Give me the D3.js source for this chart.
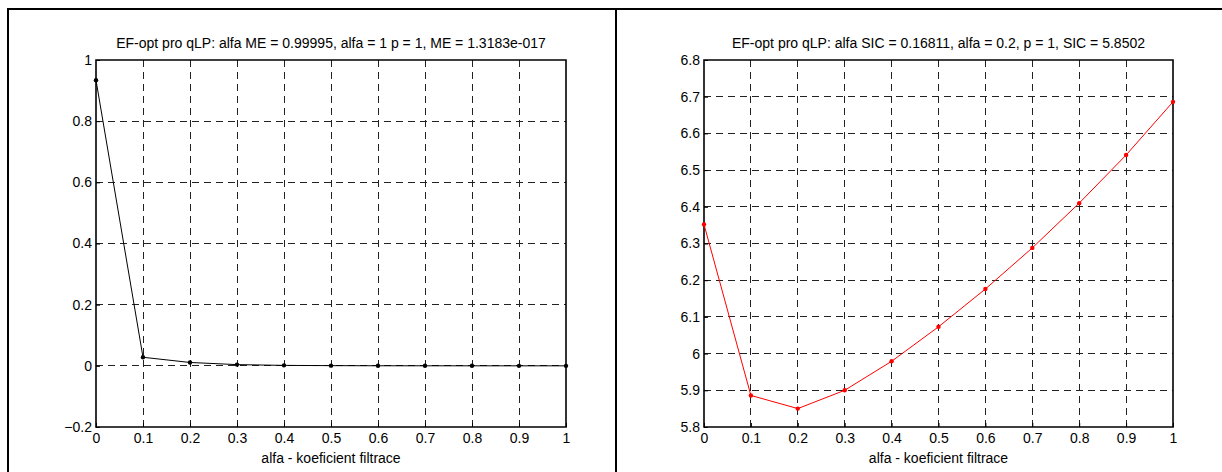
<!DOCTYPE html>
<html>
<head>
<meta charset="utf-8">
<script src="https://cdn.jsdelivr.net/npm/d3@7"></script>
<style>
  html, body { margin: 0; padding: 0; background: #fff; }
  svg { display: block; }
  text { font-family: "Liberation Sans", Arial, Helvetica, sans-serif; fill: #000; }
</style>
</head>
<body>
<svg id="fig" width="1222" height="472"></svg>
<script>
// Filter coefficient alfa (shared x values)
const alfa = [0, 0.1, 0.2, 0.3, 0.4, 0.5, 0.6, 0.7, 0.8, 0.9, 1.0];

// Mean error (ME) for each alfa
const meValues = [0.934, 0.028, 0.011, 0.004, 0.0015, 0.0006, 0.0002, 0.0001, 0.00004, 0.00001, 0.0];

// Schwarz information criterion (SIC) for each alfa
const sicValues = [6.352, 5.886, 5.8502, 5.900, 5.979, 6.073, 6.176, 6.288, 6.410, 6.541, 6.686];

// Tick values
const xTicks = [0, 0.1, 0.2, 0.3, 0.4, 0.5, 0.6, 0.7, 0.8, 0.9, 1];
const meTicks = [-0.2, 0, 0.2, 0.4, 0.6, 0.8, 1];
const sicTicks = [5.8, 5.9, 6.0, 6.1, 6.2, 6.3, 6.4, 6.5, 6.6, 6.7, 6.8];

const titleME = "EF-opt pro qLP: alfa ME = 0.99995, alfa = 1 p = 1, ME = 1.3183e-017";
const titleSIC = "EF-opt pro qLP: alfa SIC = 0.16811, alfa = 0.2, p = 1, SIC = 5.8502";
const xLabel = "alfa - koeficient filtrace";

const FONT = 14;
const svg = d3.select("#fig");

// Panel frames
svg.append("rect").attr("x", 8).attr("y", 9).attr("width", 608).attr("height", 480)
  .attr("fill", "none").attr("stroke", "#000").attr("stroke-width", 2);
svg.append("rect").attr("x", 616).attr("y", 9).attr("width", 620).attr("height", 480)
  .attr("fill", "none").attr("stroke", "#000").attr("stroke-width", 2);

const fmt = v => d3.format("~g")(+v.toFixed(2));

function drawPanel(opts) {
  const { left, top, width, height, yDomain, yTicks, values, color, title } = opts;
  const g = svg.append("g").attr("transform", `translate(${left},${top})`);
  const x = d3.scaleLinear().domain([0, 1]).range([0, width]);
  const y = d3.scaleLinear().domain(yDomain).range([height, 0]);

  // Dashed grid
  g.append("g").selectAll("line").data(xTicks.slice(1, -1)).join("line")
    .attr("x1", d => x(d)).attr("x2", d => x(d)).attr("y1", 0).attr("y2", height)
    .attr("stroke", "#222").attr("stroke-width", 1).attr("stroke-dasharray", "7,5")
    .attr("shape-rendering", "crispEdges");
  g.append("g").selectAll("line").data(yTicks.slice(1, -1)).join("line")
    .attr("y1", d => y(d)).attr("y2", d => y(d)).attr("x1", 0).attr("x2", width)
    .attr("stroke", "#222").attr("stroke-width", 1).attr("stroke-dasharray", "7,5")
    .attr("shape-rendering", "crispEdges");

  // Axes with inward ticks
  const xAxis = d3.axisBottom(x).tickValues(xTicks).tickFormat(fmt).tickSizeInner(-4).tickSizeOuter(0).tickPadding(6);
  const yAxis = d3.axisLeft(y).tickValues(yTicks).tickFormat(fmt).tickSizeInner(-4).tickSizeOuter(0).tickPadding(8);
  const xa = g.append("g").attr("transform", `translate(0,${height})`).call(xAxis);
  const ya = g.append("g").call(yAxis);
  [xa, ya].forEach(a => {
    a.select(".domain").remove();
    a.selectAll("line").attr("stroke", "#000");
    a.selectAll("text").attr("font-size", FONT).attr("font-family", "Liberation Sans, Arial, sans-serif");
  });
  ya.selectAll("text").attr("dx", 4);

  // Box
  g.append("path").attr("d", `M0,0V${height}H${width}V0Z`)
    .attr("fill", "none").attr("stroke", "#000").attr("stroke-width", 1.6);

  // Series line and markers
  const pts = alfa.map((a, i) => [a, values[i]]);
  g.append("path").datum(pts)
    .attr("d", d3.line().x(d => x(d[0])).y(d => y(d[1])))
    .attr("fill", "none").attr("stroke", color).attr("stroke-width", 1);
  g.append("g").selectAll("circle").data(pts).join("circle")
    .attr("cx", d => x(d[0])).attr("cy", d => y(d[1])).attr("r", 2.2).attr("fill", color);

  // Title and x label
  g.append("text").attr("x", width / 2).attr("y", -12).attr("text-anchor", "middle")
    .attr("font-size", FONT).text(title);
  g.append("text").attr("x", width / 2).attr("y", height + 36).attr("text-anchor", "middle")
    .attr("font-size", FONT).text(xLabel);
}

drawPanel({ left: 96, top: 60, width: 470, height: 367, yDomain: [-0.2, 1], yTicks: meTicks,
  values: meValues, color: "#000", title: titleME });
drawPanel({ left: 704, top: 60, width: 469, height: 367, yDomain: [5.8, 6.8], yTicks: sicTicks,
  values: sicValues, color: "#ff0000", title: titleSIC });
</script>
</body>
</html>
